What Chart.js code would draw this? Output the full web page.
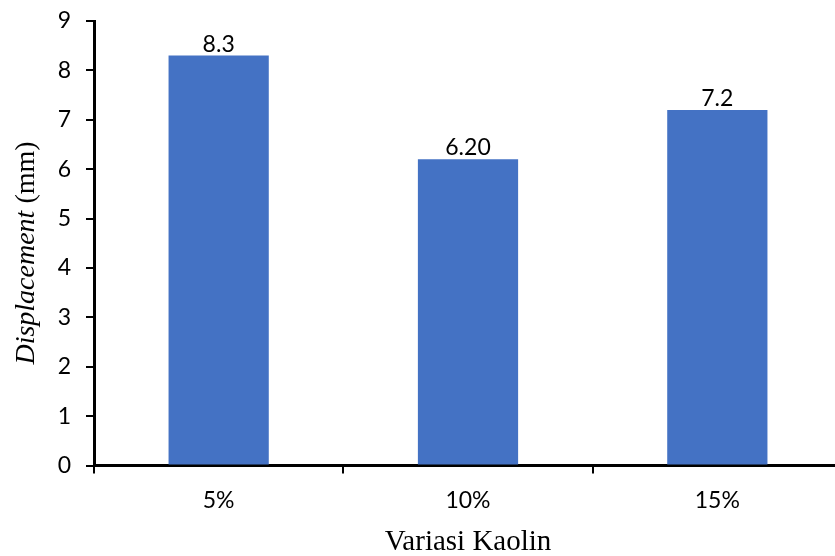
<!DOCTYPE html>
<html>
<head>
<meta charset="utf-8">
<script src="https://cdn.jsdelivr.net/npm/chart.js@4/dist/chart.umd.min.js"></script>
<style>
  html, body { margin: 0; padding: 0; background: #ffffff; overflow: hidden; }
  #wrap { width: 835px; height: 556px; position: relative; overflow: hidden; }
  #chart { position: absolute; left: 0; top: 0; }
</style>
</head>
<body>
<div id="wrap"><canvas id="chart" width="842" height="556"></canvas></div>
<script>
// Displacement per kaolin content
const categories = ['5%', '10%', '15%'];
const displacement = [8.3, 6.2, 7.2];
const labelDecimals = [1, 2, 1];
const yTicks = [0, 1, 2, 3, 4, 5, 6, 7, 8, 9];

const xTitle = 'Variasi Kaolin';
const yTitleItalic = 'Displacement';
const yTitleRest = ' (mm)';

const sansFont = 'Lato, "Noto Sans", sans-serif';
const serifFont = '"Liberation Serif", "Times New Roman", serif';

// Value labels above each bar
const valueLabels = {
  id: 'valueLabels',
  afterDatasetsDraw(chart) {
    const ctx = chart.ctx;
    const meta = chart.getDatasetMeta(0);
    ctx.save();
    ctx.fillStyle = '#000000';
    ctx.font = '23px ' + sansFont;
    ctx.textAlign = 'center';
    ctx.textBaseline = 'alphabetic';
    meta.data.forEach((bar, i) => {
      const txt = displacement[i].toFixed(labelDecimals[i]);
      ctx.fillText(txt, bar.x, bar.y - 4);
    });
    ctx.restore();
  }
};

// Axis titles (the y title mixes italic and upright text)
const axisTitles = {
  id: 'axisTitles',
  afterDraw(chart) {
    const ctx = chart.ctx;
    ctx.save();
    ctx.fillStyle = '#000000';
    ctx.textBaseline = 'alphabetic';

    ctx.font = '29px ' + serifFont;
    ctx.textAlign = 'center';
    ctx.fillText(xTitle, 468, 550);

    const italicFont = 'italic 28px ' + serifFont;
    const uprightFont = '28px ' + serifFont;
    ctx.font = italicFont;
    const w1 = ctx.measureText(yTitleItalic).width;
    ctx.font = uprightFont;
    const w2 = ctx.measureText(yTitleRest).width;
    const total = w1 + w2;
    const cy = 253;
    ctx.translate(34, cy);
    ctx.rotate(-Math.PI / 2);
    ctx.textAlign = 'left';
    ctx.font = italicFont;
    ctx.fillText(yTitleItalic, -total / 2, 0);
    ctx.font = uprightFont;
    ctx.fillText(yTitleRest, -total / 2 + w1, 0);
    ctx.restore();
  }
};

new Chart(document.getElementById('chart'), {
  type: 'bar',
  data: {
    labels: categories,
    datasets: [{
      data: displacement,
      backgroundColor: '#4472C4',
      borderWidth: 0,
      barPercentage: 0.402,
      categoryPercentage: 1.0
    }]
  },
  options: {
    responsive: false,
    animation: false,
    events: [],
    layout: { padding: { top: 21, right: 0, left: 0, bottom: 0 } },
    plugins: {
      legend: { display: false },
      tooltip: { enabled: false },
      title: { display: false }
    },
    scales: {
      x: {
        offset: true,
        grid: {
          offset: true,
          drawOnChartArea: false,
          drawTicks: true,
          tickLength: 8,
          color: '#000000',
          lineWidth: 2
        },
        border: { display: true, color: '#000000', width: 3 },
        ticks: {
          color: '#000000',
          font: { family: sansFont, size: 23 },
          padding: 13
        },
        afterFit(scale) {
          scale.height = 90.5;
          scale.paddingLeft = 0;
          scale.paddingRight = 0;
        }
      },
      y: {
        min: 0,
        max: 9,
        afterBuildTicks(scale) { scale.ticks = yTicks.map(v => ({ value: v })); },
        grid: {
          drawOnChartArea: false,
          drawTicks: true,
          tickLength: 8,
          color: '#000000',
          lineWidth: 2
        },
        border: { display: true, color: '#000000', width: 3 },
        ticks: {
          color: '#000000',
          font: { family: sansFont, size: 23 },
          padding: 15
        },
        afterFit(scale) {
          scale.width = 94;
          scale.paddingTop = 0;
          scale.paddingBottom = 0;
        }
      }
    }
  },
  plugins: [valueLabels, axisTitles]
});
</script>
</body>
</html>
